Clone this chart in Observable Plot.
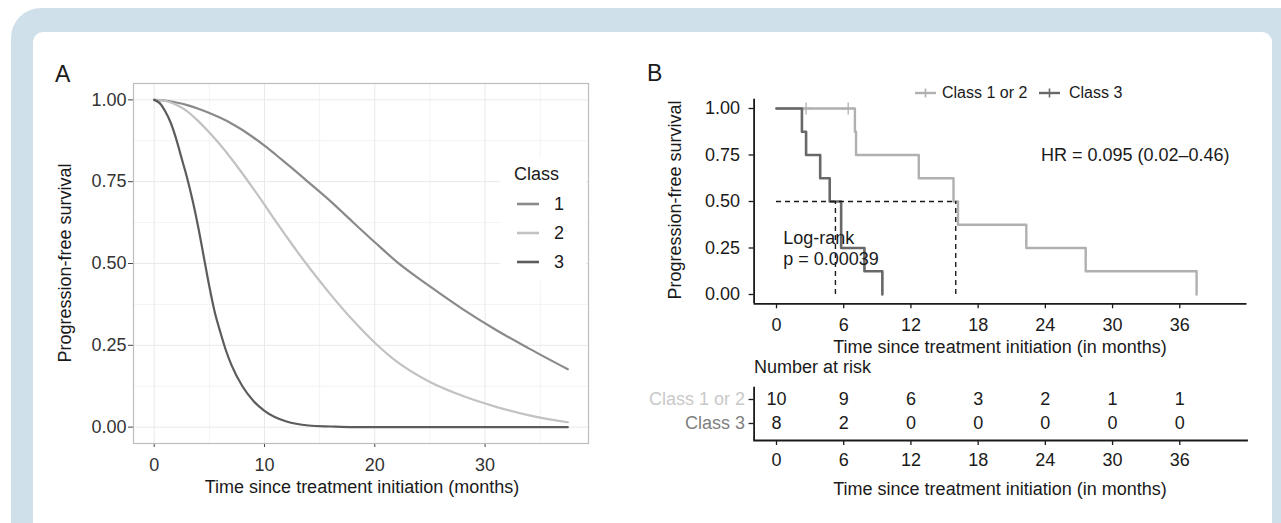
<!DOCTYPE html>
<html>
<head>
<meta charset="utf-8">
<script src="https://cdn.jsdelivr.net/npm/d3@7"></script>
<script src="https://cdn.jsdelivr.net/npm/@observablehq/plot@0.6"></script>
<style>
  html, body { margin: 0; padding: 0; }
  body { width: 1281px; height: 523px; overflow: hidden; background: #fff; position: relative;
         font-family: "Liberation Sans", Arial, Helvetica, sans-serif; color: #1a1a1a; }
  .abs { position: absolute; }
  #outer { left: 11px; top: 8px; width: 1310px; height: 620px; background: #cfe0ea; border-radius: 30px; }
  #inner { left: 33px; top: 32px; width: 1239px; height: 620px; background: #fff; border-radius: 10px; }
  .t { position: absolute; font-size: 18px; white-space: nowrap; line-height: 1; }
  .c { transform: translate(-50%, -50%); }
  .l { transform: translate(0, -50%); }
  .r { transform: translate(-100%, -50%); }
  .rot { transform: translate(-50%, -50%) rotate(-90deg); }
  .plot { position: absolute; left: 0; top: 0; }
</style>
</head>
<body>
<div id="outer" class="abs"></div>
<div id="inner" class="abs"></div>
<div id="plots"></div>
<div id="texts"></div>
<script>
// ---------------- Panel A data (model-based curves) ----------------
const classesA = ["1", "2", "3"];
const timeA12 = [0, 1, 2, 3, 4, 5, 6, 7, 8, 9, 10, 11, 12, 13, 14, 16, 18, 20, 22, 25, 28, 31, 34, 37.5];
const survA1  = [1, 0.998, 0.992, 0.984, 0.973, 0.96, 0.945, 0.928, 0.908, 0.885, 0.86, 0.833, 0.805, 0.777, 0.748, 0.69, 0.627, 0.565, 0.505, 0.43, 0.36, 0.297, 0.24, 0.177];
const survA2  = [1, 0.997, 0.985, 0.965, 0.935, 0.9, 0.862, 0.82, 0.775, 0.728, 0.68, 0.63, 0.582, 0.535, 0.49, 0.405, 0.327, 0.258, 0.2, 0.138, 0.095, 0.062, 0.036, 0.015];
const timeA3  = [0, 0.5, 1, 1.5, 2, 2.5, 3, 3.5, 4, 4.5, 5, 5.5, 6, 6.5, 7, 8, 9, 10, 12, 14, 16, 18, 22, 28, 34, 37.5];
const survA3  = [1, 0.99, 0.965, 0.93, 0.88, 0.82, 0.76, 0.69, 0.61, 0.52, 0.43, 0.35, 0.29, 0.235, 0.19, 0.125, 0.08, 0.05, 0.017, 0.005, 0.002, 0, 0, 0, 0, 0];
const colorsA = ["#8a8a8a", "#c2c2c2", "#5c5c5c"];
const xTicksA = [0, 10, 20, 30];
const xMinorA = [5, 15, 25, 35];
const yTicksA = [0, 0.25, 0.5, 0.75, 1];
const yMinorA = [0.125, 0.375, 0.625, 0.875];

// ---------------- Panel B data (Kaplan-Meier) ----------------
const groupsB = ["Class 1 or 2", "Class 3"];
const timeB1 = [0, 7.0, 7.1, 12.7, 15.8, 16.2, 22.3, 27.6, 37.5];
const survB1 = [1, 0.875, 0.75, 0.625, 0.5, 0.375, 0.25, 0.125, 0];
const timeB3 = [0, 2.27, 2.64, 3.9, 4.75, 5.77, 7.85, 9.45];
const survB3 = [1, 0.875, 0.75, 0.625, 0.5, 0.25, 0.125, 0];
const censorTimeB1 = [2.64, 6.4];
const censorSurvB1 = [1, 1];
const mediansB = [5.26, 16.0];
const colorsB = ["#b0b0b0", "#686868"];
const xTicksB = [0, 6, 12, 18, 24, 30, 36];
const yTicksB = [0, 0.25, 0.5, 0.75, 1];
const hrText = "HR = 0.095 (0.02\u20130.46)";
const pText = ["Log-rank", "p = 0.00039"];

// ---------------- Risk table ----------------
const riskTimes = [0, 6, 12, 18, 24, 30, 36];
const riskB1 = [10, 9, 6, 3, 2, 1, 1];
const riskB3 = [8, 2, 0, 0, 0, 0, 0];
const riskLabelColors = ["#c9c9c9", "#808080"];

// ---------------- build tables ----------------
const tidyA = [
  ...timeA12.map((t, i) => ({t, s: survA1[i], cls: "1"})),
  ...timeA12.map((t, i) => ({t, s: survA2[i], cls: "2"})),
  ...timeA3.map((t, i) => ({t, s: survA3[i], cls: "3"}))
];
const tidyB = [
  ...timeB1.map((t, i) => ({t, s: survB1[i], g: groupsB[0]})),
  ...timeB3.map((t, i) => ({t, s: survB3[i], g: groupsB[1]}))
];
const censB = censorTimeB1.map((t, i) => ({t, s: censorSurvB1[i], g: groupsB[0]}));
const riskTable = [
  ...riskTimes.map((t, i) => ({t, n: riskB1[i], g: groupsB[0]})),
  ...riskTimes.map((t, i) => ({t, n: riskB3[i], g: groupsB[1]}))
];

const W = 1281, H = 523;
const FONT = '"Liberation Sans", Arial, Helvetica, sans-serif';

// Panel A
const plotA = Plot.plot({
  width: W, height: H,
  marginLeft: 133, marginRight: W - 588, marginTop: 83, marginBottom: H - 443,
  style: {background: "transparent", fontFamily: FONT, fontSize: "18px", color: "#333", overflow: "visible"},
  x: {domain: [-1.875, 39.375]},
  y: {domain: [-0.05, 1.05]},
  color: {domain: classesA, range: colorsA},
  marks: [
    Plot.gridX(xMinorA, {stroke: "#f3f3f3", strokeOpacity: 1, strokeWidth: 1}),
    Plot.gridY(yMinorA, {stroke: "#f3f3f3", strokeOpacity: 1, strokeWidth: 1}),
    Plot.gridX(xTicksA, {stroke: "#e9e9e9", strokeOpacity: 1, strokeWidth: 1}),
    Plot.gridY(yTicksA, {stroke: "#e9e9e9", strokeOpacity: 1, strokeWidth: 1}),
    Plot.axisX(xTicksA, {tickSize: 4, tickPadding: 11, label: null, stroke: "#444"}),
    Plot.axisY(yTicksA, {tickSize: 5, tickPadding: 2, label: null, tickFormat: d => d.toFixed(2), stroke: "#444"}),
    Plot.line(tidyA, {x: "t", y: "s", stroke: "cls", z: "cls", curve: "monotone-x", strokeWidth: 2.2}),
    Plot.frame({stroke: "#bdbdbd", strokeWidth: 1.2})
  ]
});

// Panel B
const plotB = Plot.plot({
  width: W, height: H,
  marginLeft: 753.6, marginRight: W - 1246.5, marginTop: 98.7, marginBottom: H - 303.3,
  style: {background: "transparent", fontFamily: FONT, fontSize: "18px", color: "#1a1a1a", overflow: "visible"},
  x: {domain: [-2, 42]},
  y: {domain: [-0.05, 1.05]},
  color: {domain: groupsB, range: colorsB},
  marks: [
    Plot.axisX(xTicksB, {tickSize: 5, tickPadding: 9, label: null, strokeWidth: 1.3}),
    Plot.axisY(yTicksB, {tickSize: 5, tickPadding: 9, label: null, tickFormat: d => d.toFixed(2), strokeWidth: 1.3}),
    Plot.line(tidyB.filter(d => d.g === groupsB[0]), {x: "t", y: "s", stroke: "g", curve: "step-after", strokeWidth: 2.4}),
    Plot.dot(censB, {x: "t", y: "s", stroke: "g", symbol: "plus", r: 4, strokeWidth: 1.3}),
    Plot.line(tidyB.filter(d => d.g === groupsB[1]), {x: "t", y: "s", stroke: "g", curve: "step-after", strokeWidth: 2.6}),
    Plot.ruleY([0.5], {x1: 0, x2: d3.max(mediansB), stroke: "#1a1a1a", strokeDasharray: "5,4", strokeWidth: 1.4}),
    Plot.ruleX(mediansB, {y1: 0, y2: 0.5, stroke: "#1a1a1a", strokeDasharray: "5,4", strokeWidth: 1.4}),
    Plot.text([hrText], {x: 23.6, y: 0.75, text: d => d, textAnchor: "start", fontSize: 18, fill: "#1a1a1a"}),
    Plot.text([pText[0]], {x: 0.6, y: 0.305, text: d => d, textAnchor: "start", fontSize: 18, fill: "#1a1a1a"}),
    Plot.text([pText[1]], {x: 0.6, y: 0.19, text: d => d, textAnchor: "start", fontSize: 18, fill: "#1a1a1a"}),
    Plot.ruleX([-2], {stroke: "#1a1a1a", strokeWidth: 1.8}),
    Plot.ruleY([-0.05], {stroke: "#1a1a1a", strokeWidth: 1.8})
  ]
});

// Risk table
const plotC = Plot.plot({
  width: W, height: H,
  marginLeft: 753.6, marginRight: W - 1246.5, marginTop: 386.7, marginBottom: H - 440,
  style: {background: "transparent", fontFamily: FONT, fontSize: "18px", color: "#1a1a1a", overflow: "visible"},
  x: {domain: [-2, 42]},
  y: {type: "point", domain: groupsB, range: [399.3, 423.3], padding: 0},
  marks: [
    Plot.axisX(xTicksB, {tickSize: 5, tickPadding: 8, label: null, strokeWidth: 1.3}),
    Plot.axisY({tickSize: 5, tickPadding: 4, label: null, strokeWidth: 1.3,
                fill: d => riskLabelColors[groupsB.indexOf(d)]}),
    Plot.text(riskTable, {x: "t", y: "g", text: "n", fontSize: 18, fill: "#1a1a1a"}),
    Plot.ruleX([-2], {stroke: "#1a1a1a", strokeWidth: 1.8}),
    Plot.frame({anchor: "bottom", stroke: "#1a1a1a", strokeWidth: 1.8})
  ]
});

const plots = document.getElementById("plots");
[plotA, plotB, plotC].forEach(p => { p.classList.add("plot"); plots.appendChild(p); });

// ---------------- HTML text & legends ----------------
const texts = document.getElementById("texts");
function addText(str, x, y, cls, extra = "") {
  const d = document.createElement("div");
  d.className = "t " + cls;
  d.style.cssText = `left:${x}px;top:${y}px;${extra}`;
  d.textContent = str;
  texts.appendChild(d);
  return d;
}
// panel letters
addText("A", 55, 74, "l", "font-size:23px;");
addText("B", 647, 73, "l", "font-size:23px;");
// Panel A titles
addText("Time since treatment initiation (months)", 362, 487, "c");
addText("Progression-free survival", 65, 263, "rot");
// Panel B titles
addText("Time since treatment initiation (in months)", 1000, 347, "c");
addText("Progression-free survival", 675, 200, "rot");
addText("Number at risk", 754, 367, "l");
addText("Time since treatment initiation (in months)", 1000, 489, "c");

// Panel A legend
const legA = document.createElement("div");
legA.className = "abs";
legA.style.cssText = "left:500px;top:158px;width:86px;height:122px;background:#fff;";
texts.appendChild(legA);
addText("Class", 514, 174, "l");
classesA.forEach((c, i) => {
  const y = 204 + i * 29;
  const sw = document.createElementNS("http://www.w3.org/2000/svg", "svg");
  sw.setAttribute("width", 24); sw.setAttribute("height", 8);
  sw.style.cssText = `position:absolute;left:517px;top:${y - 4}px;`;
  sw.innerHTML = `<line x1="0" x2="22" y1="4" y2="4" stroke="${colorsA[i]}" stroke-width="2.6"/>`;
  texts.appendChild(sw);
  addText(c, 554, y, "l");
});

// Panel B legend (top)
const legBpos = [{sx: 915, tx: 942}, {sx: 1039, tx: 1069}];
groupsB.forEach((g, i) => {
  const y = 92.5;
  const sw = document.createElementNS("http://www.w3.org/2000/svg", "svg");
  sw.setAttribute("width", 22); sw.setAttribute("height", 12);
  sw.style.cssText = `position:absolute;left:${legBpos[i].sx}px;top:${y - 6}px;`;
  sw.innerHTML = `<line x1="0" x2="21" y1="6" y2="6" stroke="${colorsB[i]}" stroke-width="2.4"/>` +
                 `<line x1="10.5" x2="10.5" y1="1.5" y2="10.5" stroke="${colorsB[i]}" stroke-width="1.6"/>`;
  texts.appendChild(sw);
  addText(g, legBpos[i].tx, y, "l", "font-size:16px;");
});
</script>
</body>
</html>
